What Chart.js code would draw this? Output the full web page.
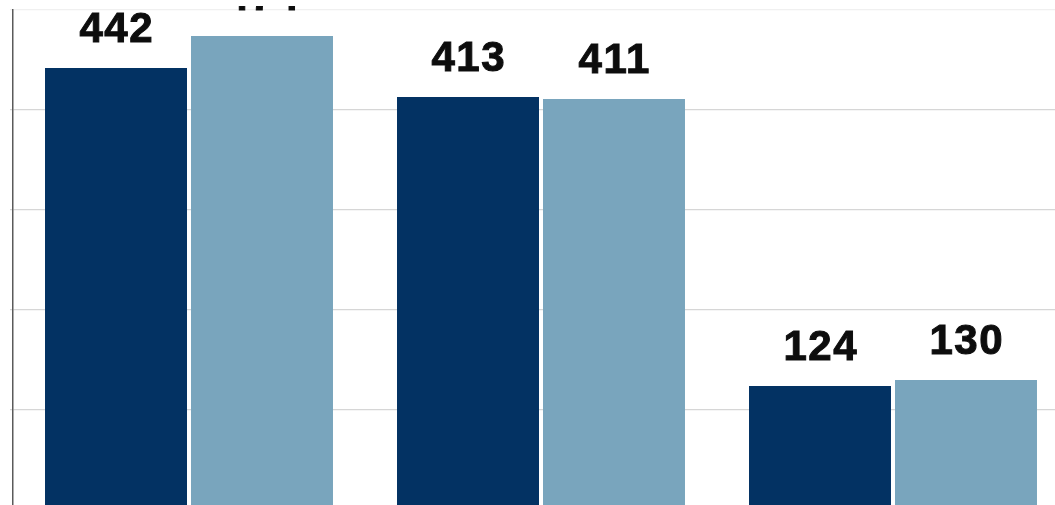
<!DOCTYPE html>
<html>
<head>
<meta charset="utf-8">
<script src="https://cdn.jsdelivr.net/npm/chart.js@4"></script>
<style>
  html, body { margin: 0; padding: 0; background: #ffffff; overflow: hidden; width: 1055px; height: 505px; }
  #wrap { position: absolute; left: 0; top: 6px; width: 1080px; height: 510px; }
  canvas { display: block; }
</style>
</head>
<body>
<div id="wrap"><canvas id="c" width="1080" height="510"></canvas></div>
<script>
const categories = ["A", "B", "C"];
const seriesDark = [442, 413, 124];
const seriesLight = [474, 411, 130];
const gridTicks = [0, 100, 200, 300, 400, 500];

const valueLabels = {
  id: 'valueLabels',
  afterDatasetsDraw(chart) {
    const ctx = chart.ctx;
    ctx.save();
    ctx.font = 'bold 42px "Liberation Sans", Arial, sans-serif';
    ctx.fillStyle = '#0d0d0d';
    ctx.strokeStyle = '#0d0d0d';
    ctx.lineWidth = 1;
    ctx.textAlign = 'center';
    ctx.textBaseline = 'alphabetic';
    const ls = 1.5;
    if ('letterSpacing' in ctx) ctx.letterSpacing = ls + 'px';
    chart.data.datasets.forEach((ds, di) => {
      const meta = chart.getDatasetMeta(di);
      meta.data.forEach((bar, i) => {
        const x = bar.x + ls / 2, y = bar.y - 26;
        ctx.fillText(String(ds.data[i]), x, y);
        ctx.strokeText(String(ds.data[i]), x, y);
      });
    });
    ctx.restore();
  }
};

new Chart(document.getElementById('c'), {
  type: 'bar',
  data: {
    labels: categories,
    datasets: [
      { data: seriesDark, backgroundColor: 'rgb(3,50,99)', borderWidth: 0 },
      { data: seriesLight, backgroundColor: 'rgb(121,165,189)', borderWidth: 0 }
    ]
  },
  options: {
    responsive: false,
    animation: false,
    devicePixelRatio: 1,
    layout: { padding: { left: 10, right: 11, top: 4, bottom: 6 } },
    datasets: { bar: { categoryPercentage: 0.8295, barPercentage: 0.9726 } },
    plugins: { legend: { display: false }, tooltip: { enabled: false } },
    scales: {
      x: { display: false },
      y: {
        min: 0,
        max: 500,
        afterBuildTicks(scale) { scale.ticks = gridTicks.map(v => ({ value: v })); },
        ticks: { display: false },
        grid: {
          color: (c) => c.tick && c.tick.value === 500 ? '#f0f0f0' : '#d6d6d6',
          lineWidth: 1.2,
          drawTicks: true,
          tickLength: 3
        },
        border: { display: true, color: '#5a5a5a', width: 1.5 }
      }
    }
  },
  plugins: [valueLabels]
});
</script>
</body>
</html>
